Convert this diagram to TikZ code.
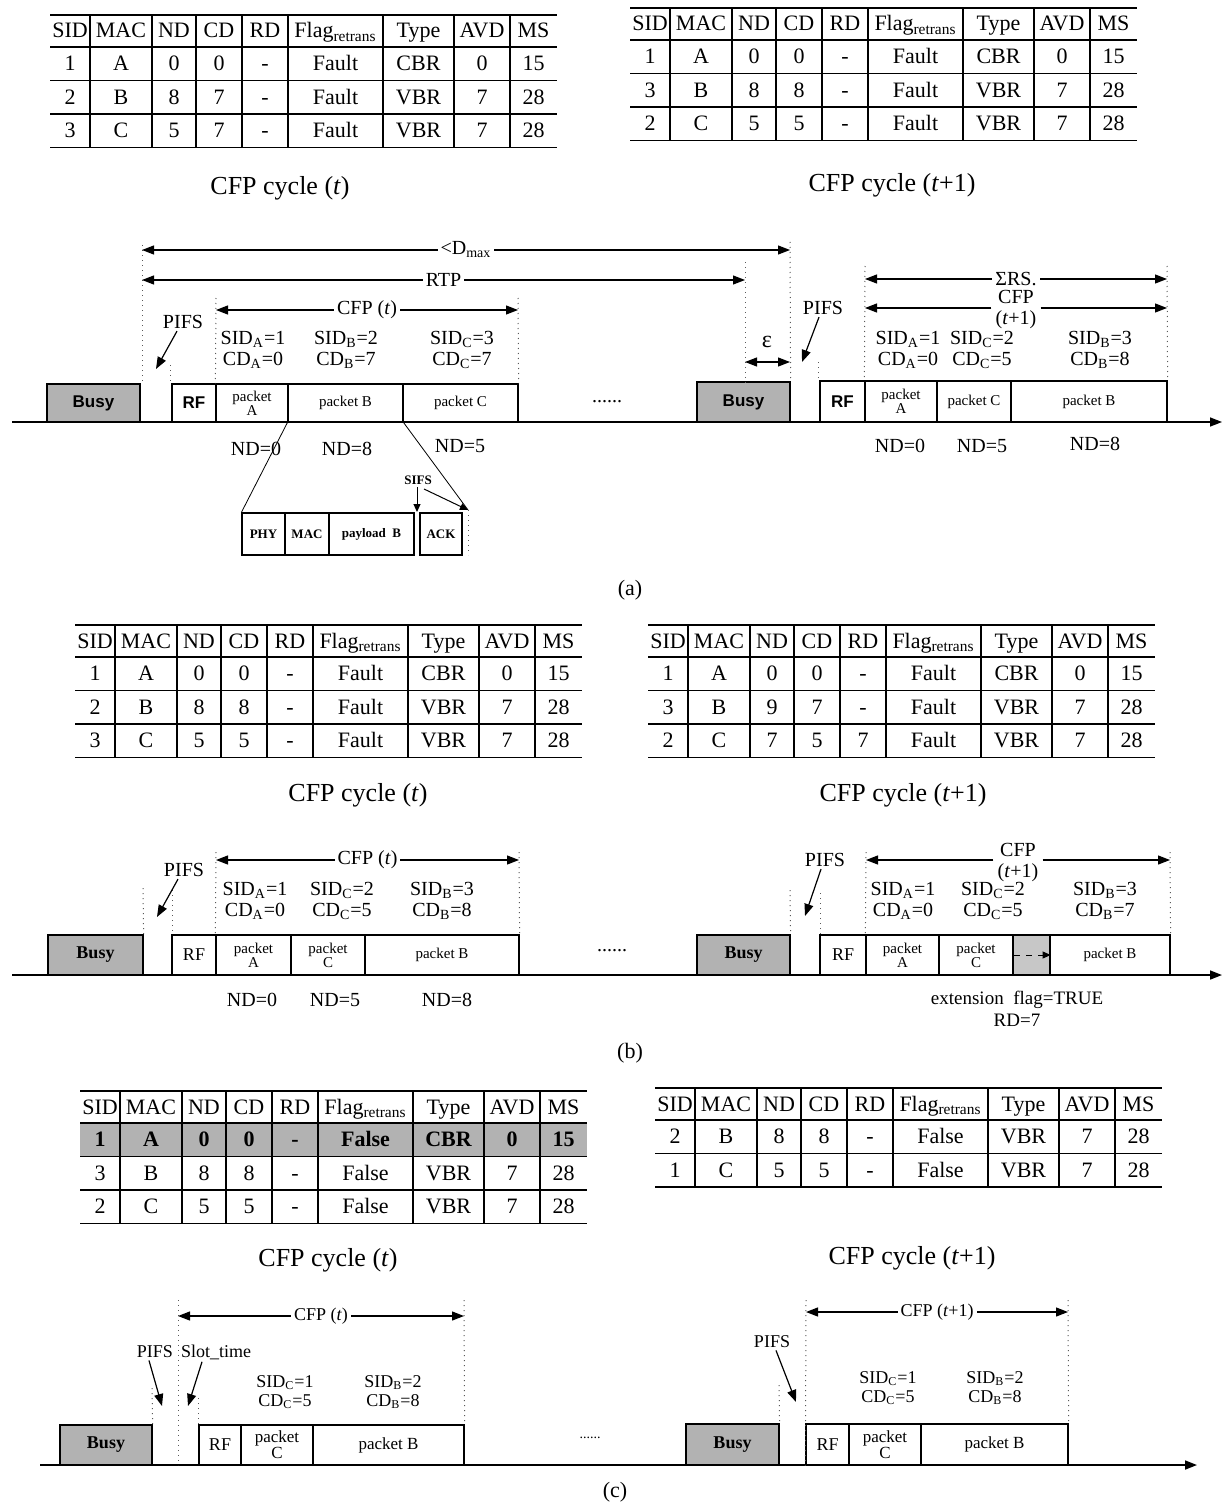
\documentclass[tikz,border=0pt]{standalone}
\usepackage{fontspec}
\setmainfont{Liberation Serif}
\newfontfamily\arialf{Liberation Sans}
\usetikzlibrary{arrows.meta,fit}
\newcommand\pkt[7][]{\node[pk,#1,fit={(#3,#4)(#5,#6)}] (#2) {};
  \node[pk,#1,draw=none,fill=none] (#2-t) at (#2.center) {#7};}
\newcommand\tabframe[3]{%
  \pgfmathsetmacro\tbot{#2+32+#3*33.5}%
  \draw[tline] (#1,#2) -- ++(507,0);
  \draw[tline] (#1,#2+32) -- ++(507,0);
  \foreach \k in {1,...,#3} {\draw[tline] (#1,#2+32+\k*33.5) -- ++(507,0);}
  \foreach \o in {40,102,146,192,238,333,404,460} {\draw[tvl] (#1+\o,#2) -- (#1+\o,\tbot);}
}
\newcommand\tabrow[5][]{%
  \foreach \t [count=\i] in {#5} {%
    \pgfmathsetmacro\cx{{20,71,124,169,215,285.5,368.5,432,483.5}[\i-1]}%
    \node[ttxt,#1] (#2-\i) at (#3+\cx,#4+7) {\t};
  }%
}
\begin{document}
\begin{tikzpicture}[x=0.5pt,y=-0.5pt,
  tline/.style={line width=0.9pt},
  tvl/.style={line width=0.6pt},
  ttxt/.style={font=\fontsize{11}{13}\selectfont, inner sep=0pt, anchor=base},
  captxt/.style={font=\fontsize{13}{15}\selectfont, inner sep=0pt},
  lbl/.style={font=\fontsize{10}{10.5}\selectfont, align=center, inner sep=0pt},
  lblc/.style={font=\fontsize{9}{9.5}\selectfont, align=center, inner sep=0pt},
  pk/.style={draw, line width=0.6pt, inner sep=0pt, font=\fontsize{7.5}{8}\selectfont, align=center},
  busy/.style={pk, fill=black!30},
  sansb/.style={font=\arialf\bfseries\fontsize{8.5}{10}\selectfont},
  serb/.style={font=\bfseries\fontsize{9}{10}\selectfont},
  guide/.style={dotted, line width=0.5pt, black!65},
  axis/.style={line width=0.8pt, -{Triangle[length=6pt,width=4.5pt]}},
  dim/.style={line width=0.6pt, {Triangle[length=6pt,width=4.5pt]}-{Triangle[length=6pt,width=4.5pt]}},
  dlbl/.style={lbl, fill=white, inner xsep=1.5pt, inner ysep=0pt},
  ptr/.style={line width=0.6pt, -{Triangle[length=6pt,width=4.5pt]}},
  sptr/.style={line width=0.5pt, -{Triangle[length=4pt,width=3.5pt]}},
  det/.style={pk, font=\bfseries\fontsize{6.5}{7}\selectfont},
]
\useasboundingbox (0,0) rectangle (1224,1503);
\fill[white] (0,0) rectangle (1224,1503);

% ================= TABLES =================
\tabframe{50}{15}{3}
\tabrow{t1h}{50}{31}{SID,MAC,ND,CD,RD,Flag\textsubscript{retrans},Type,AVD,MS}
\tabrow{t1a}{50}{63.75}{1,A,0,0,-,Fault,CBR,0,15}
\tabrow{t1b}{50}{97.25}{2,B,8,7,-,Fault,VBR,7,28}
\tabrow{t1c}{50}{130.75}{3,C,5,7,-,Fault,VBR,7,28}
\node[captxt] (cap1) at (280,188) {CFP cycle (\textit{t})};

\tabframe{630}{8}{3}
\tabrow{t2h}{630}{24}{SID,MAC,ND,CD,RD,Flag\textsubscript{retrans},Type,AVD,MS}
\tabrow{t2a}{630}{56.75}{1,A,0,0,-,Fault,CBR,0,15}
\tabrow{t2b}{630}{90.25}{3,B,8,8,-,Fault,VBR,7,28}
\tabrow{t2c}{630}{123.75}{2,C,5,5,-,Fault,VBR,7,28}
\node[captxt] (cap2) at (892,185) {CFP cycle (\textit{t}+1)};

\tabframe{75}{625}{3}
\tabrow{t3h}{75}{641}{SID,MAC,ND,CD,RD,Flag\textsubscript{retrans},Type,AVD,MS}
\tabrow{t3a}{75}{673.75}{1,A,0,0,-,Fault,CBR,0,15}
\tabrow{t3b}{75}{707.25}{2,B,8,8,-,Fault,VBR,7,28}
\tabrow{t3c}{75}{740.75}{3,C,5,5,-,Fault,VBR,7,28}
\node[captxt] (cap3) at (358,795) {CFP cycle (\textit{t})};

\tabframe{648}{625}{3}
\tabrow{t4h}{648}{641}{SID,MAC,ND,CD,RD,Flag\textsubscript{retrans},Type,AVD,MS}
\tabrow{t4a}{648}{673.75}{1,A,0,0,-,Fault,CBR,0,15}
\tabrow{t4b}{648}{707.25}{3,B,9,7,-,Fault,VBR,7,28}
\tabrow{t4c}{648}{740.75}{2,C,7,5,7,Fault,VBR,7,28}
\node[captxt] (cap4) at (903,795) {CFP cycle (\textit{t}+1)};

\fill[black!30] (80,1123) rectangle (587,1156.5);
\tabframe{80}{1091}{3}
\tabrow{t5h}{80}{1107}{SID,MAC,ND,CD,RD,Flag\textsubscript{retrans},Type,AVD,MS}
\tabrow[font=\bfseries\fontsize{11}{13}\selectfont]{t5a}{80}{1139.75}{1,A,0,0,-,False,CBR,0,15}
\tabrow{t5b}{80}{1173.25}{3,B,8,8,-,False,VBR,7,28}
\tabrow{t5c}{80}{1206.75}{2,C,5,5,-,False,VBR,7,28}
\node[captxt] (cap5) at (328,1260) {CFP cycle (\textit{t})};

\tabframe{655}{1088}{2}
\tabrow{t6h}{655}{1104}{SID,MAC,ND,CD,RD,Flag\textsubscript{retrans},Type,AVD,MS}
\tabrow{t6a}{655}{1136.75}{2,B,8,8,-,False,VBR,7,28}
\tabrow{t6b}{655}{1170.25}{1,C,5,5,-,False,VBR,7,28}
\node[captxt] (cap6) at (912,1258) {CFP cycle (\textit{t}+1)};

% ================= TIMELINE (a) =================
\coordinate (aAx0) at (12,422); \coordinate (aAx1) at (1222,422);
\draw[axis] (aAx0) -- (aAx1);
\pkt[busy,sansb]{aBusy1}{47}{384}{140}{422}{Busy}
\pkt[sansb]{aRF1}{172}{384}{216}{422}{RF}
\pkt{aPA}{216}{384}{288}{422}{packet\\[-1pt]A}
\pkt{aPB}{288}{384}{403}{422}{packet B}
\pkt{aPC}{403}{384}{518}{422}{packet C}
\draw[guide] (142,245) -- (142,384);
\draw[guide] (170,365) -- (170,384);
\draw[guide] (216,298) -- (aPA.north west);
\draw[guide] (518,298) -- (aPC.north east);
\draw[dim] (142,250) -- node[dlbl]{<D\textsubscript{max}} (790,250);
\draw[dim] (142,280) -- node[dlbl]{RTP} (745,280);
\draw[dim] (216,310) -- node[dlbl]{CFP (\textit{t})} (518,310);
\node[lbl] (aPifs1) at (183,322) {PIFS};
\coordinate (aPifs1t) at (156,369);
\draw[ptr] ([xshift=-3pt,yshift=-1pt]aPifs1.south) -- (aPifs1t);
\node[lbl] (aSA) at (253,350) {SID\textsubscript{A}=1\\CD\textsubscript{A}=0};
\node[lbl] (aSB) at (346,350) {SID\textsubscript{B}=2\\CD\textsubscript{B}=7};
\node[lbl] (aSC) at (462,350) {SID\textsubscript{C}=3\\CD\textsubscript{C}=7};
\node[lbl] (aND1) at (256,449) {ND=0};
\node[lbl] (aND2) at (347,449) {ND=8};
\node[lbl] (aND3) at (460,446) {ND=5};
\node[lbl] (aDots) at (607,402) {......};
\pkt[busy,sansb]{aBusy2}{697}{382}{790}{422}{Busy}
\draw[guide] (745,262) -- (745,384);
\draw[guide] (790,242) -- (aBusy2.north east);
\draw[dim] (745,362) -- (790,362);
\node[font=\fontsize{12}{12}\selectfont, inner sep=0pt] (aEps) at (767,342) {ε};
\node[lbl] (aPifs2) at (823,308) {PIFS};
\coordinate (aPifs2t) at (802,362);
\draw[ptr] ([xshift=-2pt,yshift=-1pt]aPifs2.south) -- (aPifs2t);
\draw[guide] (818,362) -- (818,381);
\pkt[sansb]{aRF2}{820}{381}{865}{422}{RF}
\pkt{aPA2}{865}{381}{937}{422}{packet\\[-1pt]A}
\pkt{aPC2}{937}{381}{1011}{422}{packet C}
\pkt{aPB2}{1011}{381}{1167}{422}{packet B}
\draw[guide] (865,266) -- (aPA2.north west);
\draw[guide] (1167,266) -- (aPB2.north east);
\draw[dim] (865,279) -- node[dlbl]{ΣRS.} (1167,279);
\node[lbl] (aCFP2) at (1016,310) {CFP\\(\textit{t}+1)};
\coordinate (aCFP2l) at (865,308); \coordinate (aCFP2r) at (1167,308);
\draw[ptr] ([xshift=-2pt]aCFP2.west |- aCFP2l) -- (aCFP2l);
\draw[ptr] ([xshift=2pt]aCFP2.east |- aCFP2r) -- (aCFP2r);
\node[lbl] (aSA2) at (908,350) {SID\textsubscript{A}=1\\CD\textsubscript{A}=0};
\node[lbl] (aSC2) at (982,350) {SID\textsubscript{C}=2\\CD\textsubscript{C}=5};
\node[lbl] (aSB2) at (1100,350) {SID\textsubscript{B}=3\\CD\textsubscript{B}=8};
\node[lbl] (aND4) at (900,446) {ND=0};
\node[lbl] (aND5) at (982,446) {ND=5};
\node[lbl] (aND6) at (1095,444) {ND=8};
% detail of packet B
\pkt[det]{aPHY}{242}{513}{285}{555}{PHY}
\pkt[det]{aMAC}{285}{513}{329}{555}{MAC}
\pkt[det]{aPay}{329}{513}{414}{555}{payload~~B}
\pkt[det]{aACK}{420}{513}{462}{555}{ACK}
\coordinate (aDetR) at (468,510);
\draw[line width=0.4pt] (aPB.south west) -- (aPHY.north west);
\draw[line width=0.4pt] (aPB.south east) -- (aDetR);
\draw[guide] (aDetR) -- (468,555);
\node[font=\bfseries\fontsize{6.5}{7}\selectfont, inner sep=0pt] (aSIFS) at (418,480) {SIFS};
\coordinate (aSIFSt) at (417,512);
\draw[sptr] (417,487) -- (aSIFSt);
\draw[sptr] (424,489) -- (aDetR);
\node[font=\fontsize{11}{12}\selectfont] (capA) at (630,590) {(a)};

% ================= TIMELINE (b) =================
\coordinate (bAx0) at (12,975); \coordinate (bAx1) at (1222,975);
\draw[axis] (bAx0) -- (bAx1);
\pkt[busy,serb]{bBusy1}{48}{935}{143}{975}{Busy}
\draw[guide] (143,888) -- (bBusy1.north east);
\draw[guide] (172,890) -- (172,935);
\node[lbl] (bPifs1) at (184,870) {PIFS};
\coordinate (bPifs1t) at (157,917);
\draw[ptr] ([xshift=-3pt,yshift=-1pt]bPifs1.south) -- (bPifs1t);
\pkt[font=\fontsize{9}{10}\selectfont]{bRF1}{172}{935}{216}{975}{RF}
\pkt{bPA}{216}{935}{291}{975}{packet\\[-1pt]A}
\pkt{bPC}{291}{935}{365}{975}{packet\\[-1pt]C}
\pkt{bPB}{365}{935}{519}{975}{packet B}
\draw[guide] (216,852) -- (bPA.north west);
\draw[guide] (519,852) -- (bPB.north east);
\draw[dim] (216,860) -- node[dlbl]{CFP (\textit{t})} (519,860);
\node[lbl] (bSA) at (255,901) {SID\textsubscript{A}=1\\CD\textsubscript{A}=0};
\node[lbl] (bSC) at (342,901) {SID\textsubscript{C}=2\\CD\textsubscript{C}=5};
\node[lbl] (bSB) at (442,901) {SID\textsubscript{B}=3\\CD\textsubscript{B}=8};
\node[lbl] (bND1) at (252,1000) {ND=0};
\node[lbl] (bND2) at (335,1000) {ND=5};
\node[lbl] (bND3) at (447,1000) {ND=8};
\node[lbl] (bDots) at (612,951) {......};
\pkt[busy,serb]{bBusy2}{697}{935}{790}{975}{Busy}
\draw[guide] (790,890) -- (bBusy2.north east);
\node[lbl] (bPifs2) at (825,860) {PIFS};
\coordinate (bPifs2t) at (805,916);
\draw[ptr] ([xshift=-2pt,yshift=-1pt]bPifs2.south) -- (bPifs2t);
\draw[guide] (820,893) -- (820,935);
\pkt[font=\fontsize{9}{10}\selectfont]{bRF2}{820}{935}{866}{975}{RF}
\pkt{bPA2}{866}{935}{939}{975}{packet\\[-1pt]A}
\pkt{bPC2}{939}{935}{1013}{975}{packet\\[-1pt]C}
\pkt[fill=black!22]{bExt}{1013}{935}{1050}{975}{}
\pkt{bPB2}{1050}{935}{1170}{975}{packet B}
\draw[dashed, line width=0.5pt, -{Triangle[length=4pt,width=3.5pt]}] ([xshift=1pt]bExt.west) -- (bExt.east);
\draw[guide] (866,852) -- (bPA2.north west);
\draw[guide] (1170,852) -- (bPB2.north east);
\node[lbl] (bCFP2) at (1018,862) {CFP\\(\textit{t}+1)};
\coordinate (bCFP2l) at (866,860); \coordinate (bCFP2r) at (1170,860);
\draw[ptr] ([xshift=-2pt]bCFP2.west |- bCFP2l) -- (bCFP2l);
\draw[ptr] ([xshift=2pt]bCFP2.east |- bCFP2r) -- (bCFP2r);
\node[lbl] (bSA2) at (903,901) {SID\textsubscript{A}=1\\CD\textsubscript{A}=0};
\node[lbl] (bSC2) at (993,901) {SID\textsubscript{C}=2\\CD\textsubscript{C}=5};
\node[lbl] (bSB2) at (1105,901) {SID\textsubscript{B}=3\\CD\textsubscript{B}=7};
\node[lbl, font=\fontsize{9.5}{11}\selectfont] (bExtT) at (1017,1009) {extension~~flag=TRUE\\RD=7};
\node[font=\fontsize{11}{12}\selectfont] (capB) at (630,1053) {(b)};

% ================= TIMELINE (c) =================
\coordinate (cAx0) at (40,1465); \coordinate (cAx1) at (1197,1465);
\draw[axis] (cAx0) -- (cAx1);
\pkt[busy,serb]{cBusy1}{60}{1425}{152}{1465}{Busy}
\draw[guide] (152,1388) -- (cBusy1.north east);
\draw[guide] (178,1300) -- (178,1465);
\draw[guide] (198,1398) -- (198,1425);
\node[lblc] (cPifs1) at (155,1352) {PIFS};
\node[lblc] (cSlot) at (216,1352) {Slot\_time};
\coordinate (cPifs1t) at (162,1406);
\coordinate (cSlott) at (188,1406);
\draw[ptr] ([xshift=-3pt,yshift=-1pt]cPifs1.south) -- (cPifs1t);
\draw[ptr] ([xshift=-7pt,yshift=-1pt]cSlot.south) -- (cSlott);
\pkt[font=\fontsize{9}{10}\selectfont]{cRF1}{199}{1425}{241}{1465}{RF}
\pkt[font=\fontsize{8.5}{9}\selectfont]{cPC}{241}{1425}{313}{1465}{packet\\[-1pt]C}
\pkt[font=\fontsize{8.5}{9}\selectfont]{cPB}{313}{1425}{464}{1465}{packet B}
\draw[guide] (464,1300) -- (cPB.north east);
\draw[dim] (178,1316) -- node[dlbl, font=\fontsize{9}{10}\selectfont]{CFP (\textit{t})} (464,1316);
\node[lblc] (cSC) at (285,1392) {SID\textsubscript{C}=1\\CD\textsubscript{C}=5};
\node[lblc] (cSB) at (393,1392) {SID\textsubscript{B}=2\\CD\textsubscript{B}=8};
\node[lbl, font=\fontsize{7}{8}\selectfont] (cDots) at (590,1438) {......};
\pkt[busy,serb]{cBusy2}{686}{1424}{779}{1465}{Busy}
\draw[guide] (779,1385) -- (cBusy2.north east);
\node[lblc] (cPifs2) at (772,1342) {PIFS};
\coordinate (cPifs2t) at (796,1402);
\draw[ptr] ([xshift=2pt,yshift=-1pt]cPifs2.south) -- (cPifs2t);
\pkt[font=\fontsize{9}{10}\selectfont]{cRF2}{806}{1424}{849}{1465}{RF}
\pkt[font=\fontsize{8.5}{9}\selectfont]{cPC2}{849}{1424}{921}{1465}{packet\\[-1pt]C}
\pkt[font=\fontsize{8.5}{9}\selectfont]{cPB2}{921}{1424}{1068}{1465}{packet B}
\draw[guide] (806,1300) -- (cRF2.south west);
\draw[guide] (1068,1300) -- (cPB2.north east);
\draw[dim] (806,1312) -- node[dlbl, font=\fontsize{9}{10}\selectfont]{CFP (\textit{t}+1)} (1068,1312);
\node[lblc] (cSC2) at (888,1388) {SID\textsubscript{C}=1\\CD\textsubscript{C}=5};
\node[lblc] (cSB2) at (995,1388) {SID\textsubscript{B}=2\\CD\textsubscript{B}=8};
\node[font=\fontsize{11}{12}\selectfont] (capC) at (615,1492) {(c)};
\end{tikzpicture}
\end{document}
